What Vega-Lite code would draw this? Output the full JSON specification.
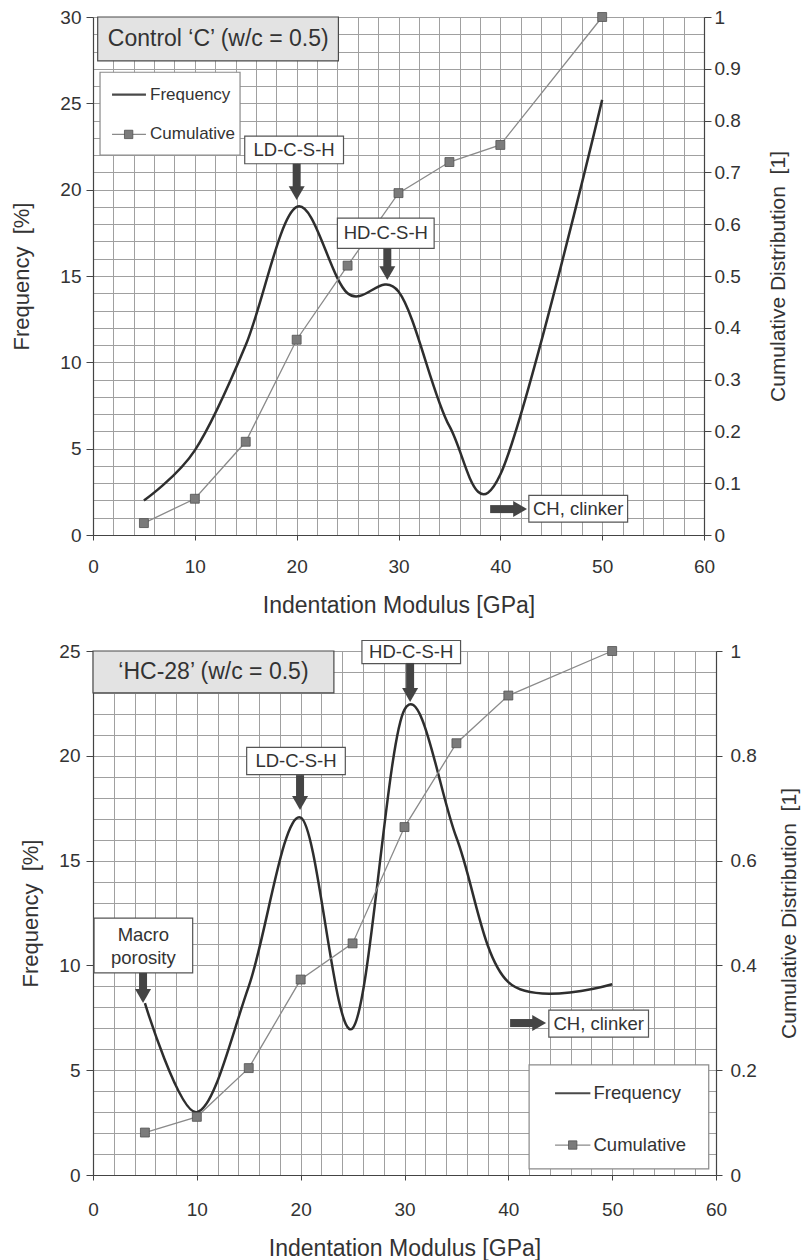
{
  "$schema": "https://vega.github.io/schema/vega-lite/v6.json",
  "padding": {"left": 10, "top": 8, "right": 4, "bottom": 0},
  "bounds": "flush",
  "spacing": 116,
  "datasets": {
    "top_series": [
      {"E": 5, "freq": 2.0, "cum": 0.023},
      {"E": 10, "freq": 4.9, "cum": 0.07},
      {"E": 15, "freq": 11.0, "cum": 0.18},
      {"E": 20, "freq": 19.0, "cum": 0.377},
      {"E": 25, "freq": 14.0, "cum": 0.52},
      {"E": 30, "freq": 14.1, "cum": 0.66},
      {"E": 35, "freq": 6.3, "cum": 0.72},
      {"E": 40, "freq": 3.5, "cum": 0.753},
      {"E": 50, "freq": 25.2, "cum": 1.0}
    ],
    "top_boxes": [
      {"kind": "title", "x": 0.46, "x2": 24.1, "y": 30.0, "y2": 27.46},
      {"kind": "legend", "x": 0.69, "x2": 14.44, "y": 26.8, "y2": 22.0},
      {"kind": "label", "x": 14.9, "x2": 24.6, "y": 23.1, "y2": 21.5},
      {"kind": "label", "x": 24.0, "x2": 33.5, "y": 18.35, "y2": 16.6},
      {"kind": "label", "x": 42.8, "x2": 52.5, "y": 2.3, "y2": 0.75}
    ],
    "top_texts": [
      {"kind": "title", "x": 12.3, "y": 28.75, "text": "Control ‘C’ (w/c = 0.5)"},
      {"kind": "label", "x": 19.75, "y": 22.3, "text": "LD-C-S-H"},
      {"kind": "label", "x": 28.75, "y": 17.48, "text": "HD-C-S-H"},
      {"kind": "label", "x": 47.65, "y": 1.52, "text": "CH, clinker"}
    ],
    "top_legend_text": [
      {"x": 5.6, "y": 25.5, "text": "Frequency"},
      {"x": 5.6, "y": 23.2, "text": "Cumulative"}
    ],
    "top_legend_lines": [
      {"series": "Frequency", "x": 1.87, "x2": 5.2, "y": 25.5},
      {"series": "Cumulative", "x": 1.87, "x2": 5.2, "y": 23.2}
    ],
    "top_legend_marks": [{"x": 3.5, "y": 23.2}],
    "top_shafts": [
      {"x": 20.0, "x2": 20.0, "y": 21.5, "y2": 20.05},
      {"x": 28.9, "x2": 28.9, "y": 16.6, "y2": 15.45},
      {"x": 39.0, "x2": 41.5, "y": 1.5, "y2": 1.5}
    ],
    "top_heads": [
      {"x": 20.0, "y": 19.8, "dir": "down"},
      {"x": 28.9, "y": 15.17, "dir": "down"},
      {"x": 41.94, "y": 1.5, "dir": "right"}
    ],
    "bottom_series": [
      {"E": 5, "freq": 8.2, "cum": 0.081},
      {"E": 10, "freq": 3.0, "cum": 0.111},
      {"E": 15, "freq": 9.0, "cum": 0.204},
      {"E": 20, "freq": 17.05, "cum": 0.373},
      {"E": 25, "freq": 7.0, "cum": 0.442},
      {"E": 30, "freq": 22.2, "cum": 0.664},
      {"E": 35, "freq": 16.1, "cum": 0.824},
      {"E": 40, "freq": 9.2, "cum": 0.915},
      {"E": 50, "freq": 9.1, "cum": 1.0}
    ],
    "bottom_boxes": [
      {"kind": "title", "x": 0.0, "x2": 23.2, "y": 25.0, "y2": 23.0},
      {"kind": "legend", "x": 42.0, "x2": 59.3, "y": 5.25, "y2": 0.29},
      {"kind": "label", "x": 14.8, "x2": 24.3, "y": 20.4, "y2": 19.1},
      {"kind": "label", "x": 25.9, "x2": 35.4, "y": 25.5, "y2": 24.4},
      {"kind": "label", "x": 0.1, "x2": 9.6, "y": 12.26, "y2": 9.64},
      {"kind": "label", "x": 43.9, "x2": 53.5, "y": 7.87, "y2": 6.58}
    ],
    "bottom_texts": [
      {"kind": "title", "x": 11.6, "y": 24.0, "text": "‘HC-28’ (w/c = 0.5)"},
      {"kind": "label", "x": 19.55, "y": 19.75, "text": "LD-C-S-H"},
      {"kind": "label", "x": 30.65, "y": 24.95, "text": "HD-C-S-H"},
      {"kind": "label", "x": 4.85, "y": 11.45, "text": "Macro"},
      {"kind": "label", "x": 4.85, "y": 10.35, "text": "porosity"},
      {"kind": "label", "x": 48.7, "y": 7.22, "text": "CH, clinker"}
    ],
    "bottom_legend_text": [
      {"x": 48.2, "y": 3.9, "text": "Frequency"},
      {"x": 48.2, "y": 1.43, "text": "Cumulative"}
    ],
    "bottom_legend_lines": [
      {"series": "Frequency", "x": 44.5, "x2": 47.9, "y": 3.9},
      {"series": "Cumulative", "x": 44.5, "x2": 47.9, "y": 1.43}
    ],
    "bottom_legend_marks": [{"x": 46.2, "y": 1.43}],
    "bottom_shafts": [
      {"x": 19.94, "x2": 19.94, "y": 19.08, "y2": 17.99},
      {"x": 30.54, "x2": 30.54, "y": 24.43, "y2": 23.14},
      {"x": 4.82, "x2": 4.82, "y": 9.64, "y2": 8.78},
      {"x": 40.17, "x2": 42.49, "y": 7.25, "y2": 7.25}
    ],
    "bottom_heads": [
      {"x": 19.94, "y": 17.75, "dir": "down"},
      {"x": 30.54, "y": 22.9, "dir": "down"},
      {"x": 4.82, "y": 8.54, "dir": "down"},
      {"x": 42.97, "y": 7.25, "dir": "right"}
    ]
  },
  "vconcat": [
    {
      "width": 611,
      "height": 518,
      "resolve": {"scale": {"x": "independent", "y": "independent"}},
      "layer": [
        {
          "data": {"name": "top_series"},
          "mark": {"type": "line", "interpolate": "cardinal", "color": "#2e2e2e", "strokeWidth": 2.5},
          "encoding": {
            "x": {"field": "E", "type": "quantitative", "scale": {"domain": [0, 60], "nice": false},
                  "axis": {"title": "Indentation Modulus [GPa]", "values": [0,2,4,6,8,10,12,14,16,18,20,22,24,26,28,30,32,34,36,38,40,42,44,46,48,50,52,54,56,58,60],
                           "format": "d", "labelExpr": "datum.value % 10 === 0 ? datum.label : ''",
                           "tickOpacity": {"condition": {"test": "datum.value % 10 === 0", "value": 1}, "value": 0},
                           "tickSize": 5, "labelPadding": 17, "labelFontSize": 19, "titleFontSize": 23, "titlePadding": 18,
                           "grid": true, "labelFlush": false, "labelOverlap": false}},
            "y": {"field": "freq", "type": "quantitative", "scale": {"domain": [0, 30], "nice": false},
                  "axis": {"orient": "left", "title": "Frequency \u00a0[%]", "values": [0,1,2,3,4,5,6,7,8,9,10,11,12,13,14,15,16,17,18,19,20,21,22,23,24,25,26,27,28,29,30],
                           "format": "d", "labelExpr": "datum.value % 5 === 0 ? datum.label : ''",
                           "tickOpacity": {"condition": {"test": "datum.value % 5 === 0", "value": 1}, "value": 0},
                           "tickSize": 7, "labelPadding": 5, "labelFontSize": 19, "titleFontSize": 22, "titlePadding": 26,
                           "grid": true, "labelFlush": false, "labelOverlap": false}}
          }
        },
        {
          "data": {"name": "top_series"},
          "mark": {"type": "line", "color": "#8a8a8a", "strokeWidth": 1.3,
                   "point": {"shape": "square", "size": 80, "filled": true, "fill": "#7b7b7b", "stroke": "#505050", "strokeWidth": 0.8}},
          "encoding": {
            "x": {"field": "E", "type": "quantitative", "scale": {"domain": [0, 60], "nice": false}, "axis": null},
            "y": {"field": "cum", "type": "quantitative", "scale": {"domain": [0, 1], "nice": false},
                  "axis": {"orient": "right", "title": "Cumulative Distribution \u00a0[1]", "values": [0, 0.1, 0.2, 0.3, 0.4, 0.5, 0.6, 0.7, 0.8, 0.9, 1], "format": "~g",
                           "tickSize": 7, "labelPadding": 3, "labelFontSize": 19, "titleFontSize": 21, "titleAngle": 270, "titleBaseline": "top", "titlePadding": 27,
                           "grid": false, "labelFlush": false, "labelOverlap": false}}
          }
        },
        {
          "data": {"name": "top_boxes"},
          "mark": {"type": "rect", "strokeWidth": 1.2},
          "encoding": {
            "x": {"field": "x", "type": "quantitative", "scale": {"domain": [0, 60], "nice": false}, "axis": null},
            "x2": {"field": "x2"},
            "y": {"field": "y", "type": "quantitative", "scale": {"domain": [0, 30], "nice": false}, "axis": null},
            "y2": {"field": "y2"},
            "fill": {"field": "kind", "type": "nominal", "scale": {"domain": ["title", "legend", "label"], "range": ["#e3e3e3", "#ffffff", "#ffffff"]}, "legend": null},
            "stroke": {"field": "kind", "type": "nominal", "scale": {"domain": ["title", "legend", "label"], "range": ["#4a4a4a", "#8a8a8a", "#555555"]}, "legend": null}
          }
        },
        {
          "data": {"name": "top_shafts"},
          "mark": {"type": "rule", "color": "#444444", "strokeWidth": 8},
          "encoding": {
            "x": {"field": "x", "type": "quantitative", "scale": {"domain": [0, 60], "nice": false}, "axis": null},
            "x2": {"field": "x2"},
            "y": {"field": "y", "type": "quantitative", "scale": {"domain": [0, 30], "nice": false}, "axis": null},
            "y2": {"field": "y2"}
          }
        },
        {
          "data": {"name": "top_heads"},
          "mark": {"type": "point", "filled": true, "color": "#444444", "size": 256, "opacity": 1},
          "encoding": {
            "x": {"field": "x", "type": "quantitative", "scale": {"domain": [0, 60], "nice": false}, "axis": null},
            "y": {"field": "y", "type": "quantitative", "scale": {"domain": [0, 30], "nice": false}, "axis": null},
            "shape": {"field": "dir", "type": "nominal", "scale": {"domain": ["down", "right"], "range": ["triangle-down", "triangle-right"]}, "legend": null}
          }
        },
        {
          "data": {"name": "top_texts"},
          "mark": {"type": "text", "align": "center", "baseline": "middle", "color": "#333333"},
          "encoding": {
            "x": {"field": "x", "type": "quantitative", "scale": {"domain": [0, 60], "nice": false}, "axis": null},
            "y": {"field": "y", "type": "quantitative", "scale": {"domain": [0, 30], "nice": false}, "axis": null},
            "text": {"field": "text"},
            "size": {"field": "kind", "type": "nominal", "scale": {"domain": ["title", "label"], "range": [23, 18.5]}, "legend": null}
          }
        },
        {
          "data": {"name": "top_legend_lines"},
          "mark": {"type": "rule"},
          "encoding": {
            "x": {"field": "x", "type": "quantitative", "scale": {"domain": [0, 60], "nice": false}, "axis": null},
            "x2": {"field": "x2"},
            "y": {"field": "y", "type": "quantitative", "scale": {"domain": [0, 30], "nice": false}, "axis": null},
            "stroke": {"field": "series", "type": "nominal", "scale": {"domain": ["Frequency", "Cumulative"], "range": ["#2e2e2e", "#8a8a8a"]}, "legend": null},
            "strokeWidth": {"field": "series", "type": "nominal", "scale": {"domain": ["Frequency", "Cumulative"], "range": [2.2, 1.3]}, "legend": null}
          }
        },
        {
          "data": {"name": "top_legend_marks"},
          "mark": {"type": "point", "shape": "square", "size": 70, "filled": true, "fill": "#7b7b7b", "stroke": "#505050", "strokeWidth": 0.8, "opacity": 1},
          "encoding": {
            "x": {"field": "x", "type": "quantitative", "scale": {"domain": [0, 60], "nice": false}, "axis": null},
            "y": {"field": "y", "type": "quantitative", "scale": {"domain": [0, 30], "nice": false}, "axis": null}
          }
        },
        {
          "data": {"name": "top_legend_text"},
          "mark": {"type": "text", "align": "left", "baseline": "middle", "fontSize": 17, "color": "#333333"},
          "encoding": {
            "x": {"field": "x", "type": "quantitative", "scale": {"domain": [0, 60], "nice": false}, "axis": null},
            "y": {"field": "y", "type": "quantitative", "scale": {"domain": [0, 30], "nice": false}, "axis": null},
            "text": {"field": "text"}
          }
        }
      ]
    },
    {
      "width": 623,
      "height": 524,
      "resolve": {"scale": {"x": "independent", "y": "independent"}},
      "layer": [
        {
          "data": {"name": "bottom_series"},
          "mark": {"type": "line", "interpolate": "cardinal", "color": "#2e2e2e", "strokeWidth": 2.5},
          "encoding": {
            "x": {"field": "E", "type": "quantitative", "scale": {"domain": [0, 60], "nice": false},
                  "axis": {"title": "Indentation Modulus [GPa]", "values": [0,2,4,6,8,10,12,14,16,18,20,22,24,26,28,30,32,34,36,38,40,42,44,46,48,50,52,54,56,58,60],
                           "format": "d", "labelExpr": "datum.value % 10 === 0 ? datum.label : ''",
                           "tickOpacity": {"condition": {"test": "datum.value % 10 === 0", "value": 1}, "value": 0},
                           "tickSize": 5, "labelPadding": 20, "labelFontSize": 19, "titleFontSize": 23, "titlePadding": 18,
                           "grid": true, "labelFlush": false, "labelOverlap": false}},
            "y": {"field": "freq", "type": "quantitative", "scale": {"domain": [0, 25], "nice": false},
                  "axis": {"orient": "left", "title": "Frequency \u00a0[%]", "values": [0,1,2,3,4,5,6,7,8,9,10,11,12,13,14,15,16,17,18,19,20,21,22,23,24,25],
                           "format": "d", "labelExpr": "datum.value % 5 === 0 ? datum.label : ''",
                           "tickOpacity": {"condition": {"test": "datum.value % 5 === 0", "value": 1}, "value": 0},
                           "tickSize": 7, "labelPadding": 6, "labelFontSize": 19, "titleFontSize": 22, "titlePadding": 16,
                           "grid": true, "labelFlush": false, "labelOverlap": false}}
          }
        },
        {
          "data": {"name": "bottom_series"},
          "mark": {"type": "line", "color": "#8a8a8a", "strokeWidth": 1.3,
                   "point": {"shape": "square", "size": 80, "filled": true, "fill": "#7b7b7b", "stroke": "#505050", "strokeWidth": 0.8}},
          "encoding": {
            "x": {"field": "E", "type": "quantitative", "scale": {"domain": [0, 60], "nice": false}, "axis": null},
            "y": {"field": "cum", "type": "quantitative", "scale": {"domain": [0, 1], "nice": false},
                  "axis": {"orient": "right", "title": "Cumulative Distribution \u00a0[1]", "values": [0, 0.2, 0.4, 0.6, 0.8, 1], "format": "~g",
                           "tickSize": 6, "labelPadding": 8, "labelFontSize": 19, "titleFontSize": 21, "titleAngle": 270, "titleBaseline": "top", "titlePadding": 22,
                           "grid": false, "labelFlush": false, "labelOverlap": false}}
          }
        },
        {
          "data": {"name": "bottom_boxes"},
          "mark": {"type": "rect", "strokeWidth": 1.2},
          "encoding": {
            "x": {"field": "x", "type": "quantitative", "scale": {"domain": [0, 60], "nice": false}, "axis": null},
            "x2": {"field": "x2"},
            "y": {"field": "y", "type": "quantitative", "scale": {"domain": [0, 25], "nice": false}, "axis": null},
            "y2": {"field": "y2"},
            "fill": {"field": "kind", "type": "nominal", "scale": {"domain": ["title", "legend", "label"], "range": ["#e3e3e3", "#ffffff", "#ffffff"]}, "legend": null},
            "stroke": {"field": "kind", "type": "nominal", "scale": {"domain": ["title", "legend", "label"], "range": ["#4a4a4a", "#8a8a8a", "#555555"]}, "legend": null}
          }
        },
        {
          "data": {"name": "bottom_shafts"},
          "mark": {"type": "rule", "color": "#444444", "strokeWidth": 8},
          "encoding": {
            "x": {"field": "x", "type": "quantitative", "scale": {"domain": [0, 60], "nice": false}, "axis": null},
            "x2": {"field": "x2"},
            "y": {"field": "y", "type": "quantitative", "scale": {"domain": [0, 25], "nice": false}, "axis": null},
            "y2": {"field": "y2"}
          }
        },
        {
          "data": {"name": "bottom_heads"},
          "mark": {"type": "point", "filled": true, "color": "#444444", "size": 256, "opacity": 1},
          "encoding": {
            "x": {"field": "x", "type": "quantitative", "scale": {"domain": [0, 60], "nice": false}, "axis": null},
            "y": {"field": "y", "type": "quantitative", "scale": {"domain": [0, 25], "nice": false}, "axis": null},
            "shape": {"field": "dir", "type": "nominal", "scale": {"domain": ["down", "right"], "range": ["triangle-down", "triangle-right"]}, "legend": null}
          }
        },
        {
          "data": {"name": "bottom_texts"},
          "mark": {"type": "text", "align": "center", "baseline": "middle", "color": "#333333"},
          "encoding": {
            "x": {"field": "x", "type": "quantitative", "scale": {"domain": [0, 60], "nice": false}, "axis": null},
            "y": {"field": "y", "type": "quantitative", "scale": {"domain": [0, 25], "nice": false}, "axis": null},
            "text": {"field": "text"},
            "size": {"field": "kind", "type": "nominal", "scale": {"domain": ["title", "label"], "range": [23, 18.5]}, "legend": null}
          }
        },
        {
          "data": {"name": "bottom_legend_lines"},
          "mark": {"type": "rule"},
          "encoding": {
            "x": {"field": "x", "type": "quantitative", "scale": {"domain": [0, 60], "nice": false}, "axis": null},
            "x2": {"field": "x2"},
            "y": {"field": "y", "type": "quantitative", "scale": {"domain": [0, 25], "nice": false}, "axis": null},
            "stroke": {"field": "series", "type": "nominal", "scale": {"domain": ["Frequency", "Cumulative"], "range": ["#2e2e2e", "#8a8a8a"]}, "legend": null},
            "strokeWidth": {"field": "series", "type": "nominal", "scale": {"domain": ["Frequency", "Cumulative"], "range": [2.2, 1.3]}, "legend": null}
          }
        },
        {
          "data": {"name": "bottom_legend_marks"},
          "mark": {"type": "point", "shape": "square", "size": 70, "filled": true, "fill": "#7b7b7b", "stroke": "#505050", "strokeWidth": 0.8, "opacity": 1},
          "encoding": {
            "x": {"field": "x", "type": "quantitative", "scale": {"domain": [0, 60], "nice": false}, "axis": null},
            "y": {"field": "y", "type": "quantitative", "scale": {"domain": [0, 25], "nice": false}, "axis": null}
          }
        },
        {
          "data": {"name": "bottom_legend_text"},
          "mark": {"type": "text", "align": "left", "baseline": "middle", "fontSize": 18.5, "color": "#333333"},
          "encoding": {
            "x": {"field": "x", "type": "quantitative", "scale": {"domain": [0, 60], "nice": false}, "axis": null},
            "y": {"field": "y", "type": "quantitative", "scale": {"domain": [0, 25], "nice": false}, "axis": null},
            "text": {"field": "text"}
          }
        }
      ]
    }
  ],
  "config": {
    "font": "Liberation Sans",
    "view": {"stroke": null},
    "axis": {
      "labelFont": "Liberation Sans",
      "titleFont": "Liberation Sans",
      "labelColor": "#333333",
      "titleColor": "#333333",
      "titleFontWeight": "normal",
      "domainColor": "#444444",
      "domainWidth": 1.2,
      "tickColor": "#444444",
      "gridColor": "#a0a0a0",
      "gridWidth": 1,
      "gridOpacity": 1
    },
    "text": {"font": "Liberation Sans"}
  }
}
